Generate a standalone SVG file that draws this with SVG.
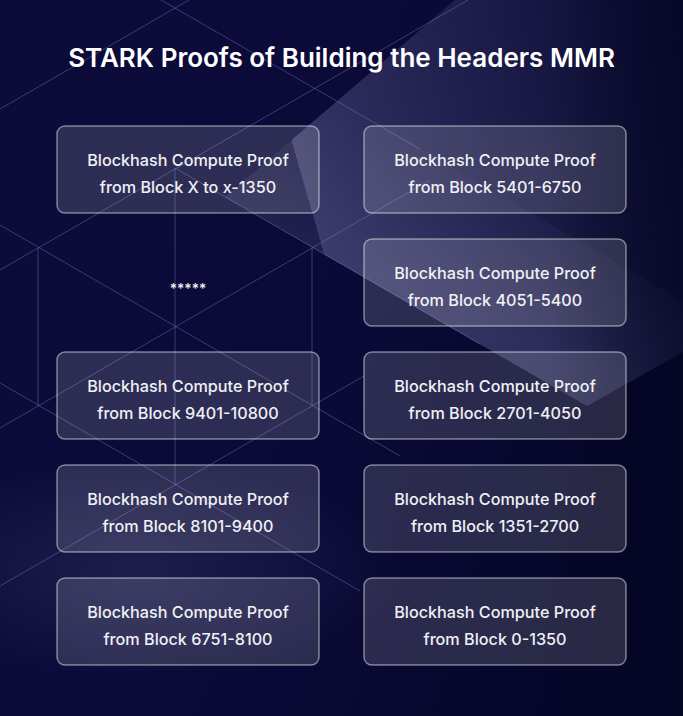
<svg xmlns="http://www.w3.org/2000/svg" width="683" height="716" viewBox="0 0 683 716">
<defs>
<linearGradient id="bg" x1="0" y1="0" x2="1" y2="0.3">
<stop offset="0" stop-color="#0c0b3a"/>
<stop offset="0.6" stop-color="#0b0a37"/>
<stop offset="1" stop-color="#06062a"/>
</linearGradient>
<linearGradient id="bandA" gradientUnits="userSpaceOnUse" x1="300" y1="170" x2="683" y2="60">
<stop offset="0" stop-color="#42427300" stop-opacity="0.75"/>
<stop offset="0" stop-color="#424273" stop-opacity="0.75"/>
<stop offset="0.55" stop-color="#2e2e5e" stop-opacity="0.5"/>
<stop offset="1" stop-color="#1e1e4a" stop-opacity="0.25"/>
</linearGradient>
<linearGradient id="bandB" gradientUnits="userSpaceOnUse" x1="500" y1="150" x2="440" y2="300">
<stop offset="0" stop-color="#4a4a7a" stop-opacity="0"/>
<stop offset="1" stop-color="#4a4a7a" stop-opacity="0.35"/>
</linearGradient>
<radialGradient id="glowC" gradientUnits="userSpaceOnUse" cx="140" cy="570" r="200" gradientTransform="translate(140 570) scale(1.3 0.55) rotate(-25) translate(-140 -570)">
<stop offset="0" stop-color="#3a3a6a" stop-opacity="0.4"/>
<stop offset="1" stop-color="#3a3a6a" stop-opacity="0"/>
</radialGradient>
<linearGradient id="fadeR" x1="0" y1="0" x2="1" y2="0">
<stop offset="0.8" stop-color="#040420" stop-opacity="0"/>
<stop offset="1" stop-color="#040420" stop-opacity="0.6"/>
</linearGradient>
</defs>
<style>
.grid line{stroke:#8c8cd4;stroke-opacity:0.38;stroke-width:1}
.box{fill:#ffffff;fill-opacity:0.14;stroke:#ffffff;stroke-opacity:0.45;stroke-width:1.5}
.t{font-family:Inter,"Liberation Sans",sans-serif;font-size:16.2px;font-weight:500;fill:#f0f0f5;text-anchor:middle}
.title{font-family:Inter,"Liberation Sans",sans-serif;font-size:26px;font-weight:600;fill:#ffffff;text-anchor:middle}
</style>
<g id="background">
<rect x="0" y="0" width="683" height="716" fill="url(#bg)"/>
<polygon points="455,0 683,0 683,352 587,406 225,197" fill="url(#bandA)"/>
<polygon points="337,101 683,301 683,352 587,406 225,197" fill="url(#bandB)"/>
<rect x="0" y="380" width="683" height="336" fill="url(#glowC)"/>
<rect x="0" y="0" width="683" height="716" fill="url(#fadeR)"/>
</g>
<g id="grid" class="grid">
<line x1="38" y1="248" x2="38" y2="406"/>
<line x1="175" y1="168" x2="175" y2="485"/>
<line x1="312" y1="248" x2="312" y2="406"/>
<line x1="0" y1="109" x2="189" y2="0"/>
<line x1="0" y1="270" x2="468" y2="0"/>
<line x1="0" y1="428" x2="430" y2="180"/>
<line x1="0" y1="586" x2="364" y2="376"/>
<line x1="161" y1="0" x2="420" y2="149"/>
<line x1="175" y1="168" x2="480" y2="344"/>
<line x1="0" y1="225" x2="400" y2="456"/>
<line x1="0" y1="383" x2="360" y2="591"/>
</g>
<text class="title" x="341.5" y="67">STARK Proofs of Building the Headers MMR</text>
<g id="n1"><rect class="box" x="57" y="126" width="262" height="87" rx="8"/><text class="t" x="188" y="166">Blockhash Compute Proof</text><text class="t" x="188" y="193">from Block X to x-1350</text></g>
<g id="n2"><rect class="box" x="364" y="126" width="262" height="87" rx="8"/><text class="t" x="495" y="166">Blockhash Compute Proof</text><text class="t" x="495" y="193">from Block 5401-6750</text></g>
<g id="n3"><rect class="box" x="364" y="239" width="262" height="87" rx="8"/><text class="t" x="495" y="279">Blockhash Compute Proof</text><text class="t" x="495" y="306">from Block 4051-5400</text></g>
<g id="n4"><text class="t" x="188" y="294" style="font-size:14px">*****</text></g>
<g id="n5"><rect class="box" x="57" y="352" width="262" height="87" rx="8"/><text class="t" x="188" y="392">Blockhash Compute Proof</text><text class="t" x="188" y="419">from Block 9401-10800</text></g>
<g id="n6"><rect class="box" x="364" y="352" width="262" height="87" rx="8"/><text class="t" x="495" y="392">Blockhash Compute Proof</text><text class="t" x="495" y="419">from Block 2701-4050</text></g>
<g id="n7"><rect class="box" x="57" y="465" width="262" height="87" rx="8"/><text class="t" x="188" y="505">Blockhash Compute Proof</text><text class="t" x="188" y="532">from Block 8101-9400</text></g>
<g id="n8"><rect class="box" x="364" y="465" width="262" height="87" rx="8"/><text class="t" x="495" y="505">Blockhash Compute Proof</text><text class="t" x="495" y="532">from Block 1351-2700</text></g>
<g id="n9"><rect class="box" x="57" y="578" width="262" height="87" rx="8"/><text class="t" x="188" y="618">Blockhash Compute Proof</text><text class="t" x="188" y="645">from Block 6751-8100</text></g>
<g id="n10"><rect class="box" x="364" y="578" width="262" height="87" rx="8"/><text class="t" x="495" y="618">Blockhash Compute Proof</text><text class="t" x="495" y="645">from Block 0-1350</text></g>
<g id="connectors"></g>
</svg>
